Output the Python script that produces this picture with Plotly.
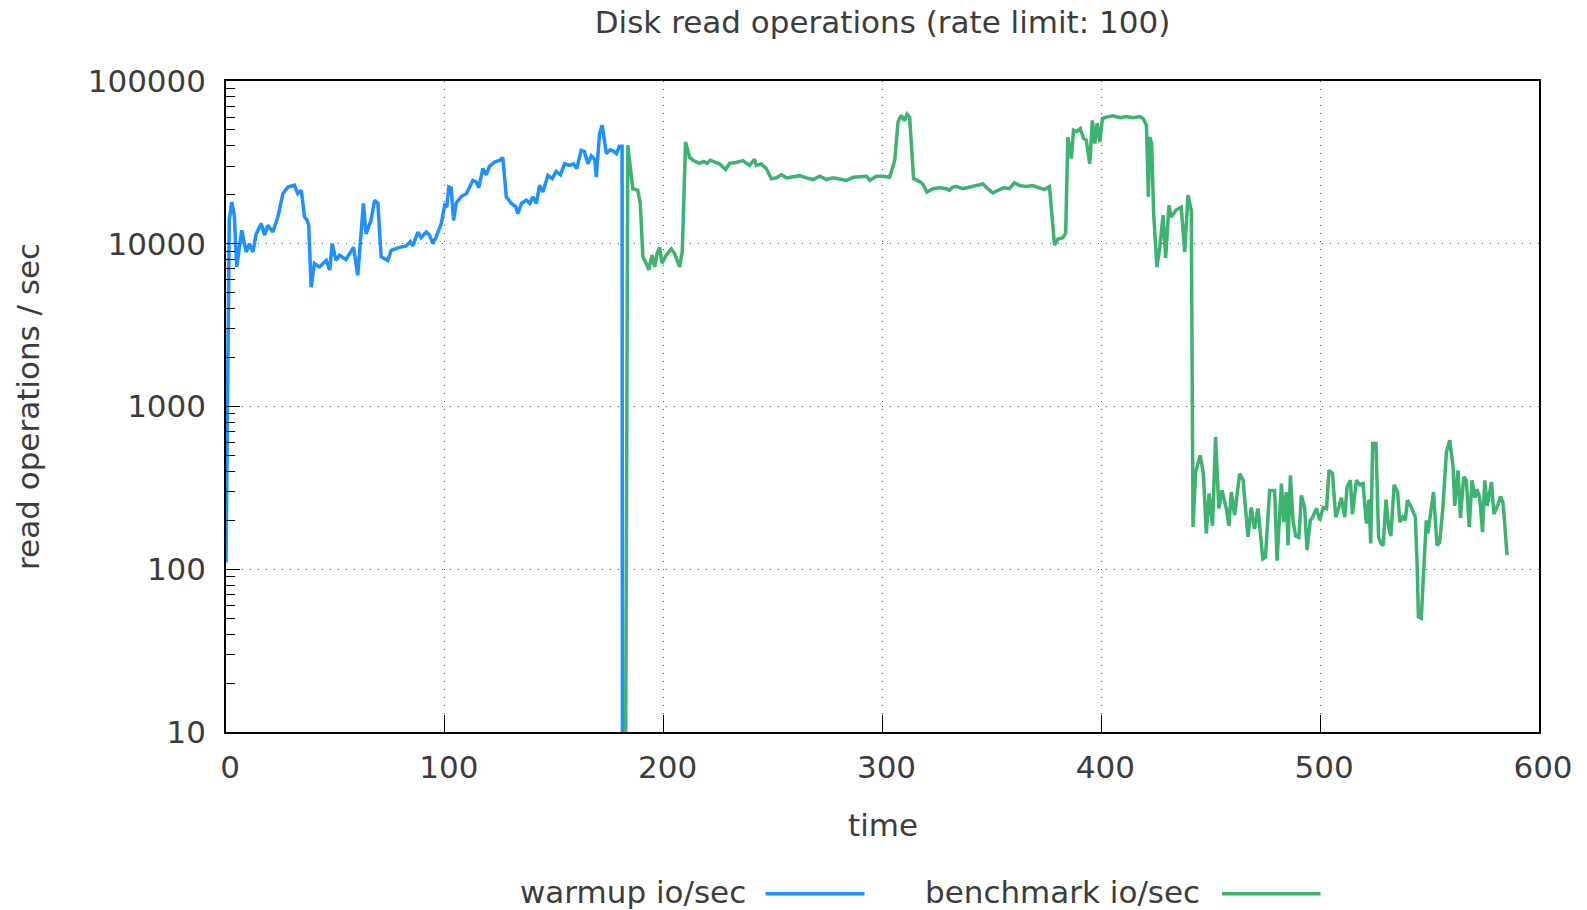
import plotly.graph_objects as go

# ---- data ----
warmup_time = [0, 1.5, 2.6, 3.8, 4.9, 7.2, 9.2, 10.7, 12.3, 13.8, 16.1, 17.6, 19.1, 21.4, 23.7, 26, 28.3, 31.3,
               32.8, 34.4, 35.9, 37, 37.8, 38.9, 40.4, 42.7, 45.8, 47.4, 48.5, 50.3, 51.8, 54.8, 58.3, 60.2,
               62.8, 64, 66.3, 67.9, 69.4, 70.9, 73.9, 75.5, 79.3, 82.4, 84.2, 85.4, 87.7, 89.2, 91.5, 93,
               94.5, 96, 98.4, 99.9, 100.9, 101.8, 102.9, 104, 105.2, 107.5, 109.8, 111, 112.8, 114.3, 115.5,
               117.4, 118.9, 120.4, 122.7, 125, 126.5, 128.1, 130.4, 132.4, 133.4, 135, 137.2, 138.8, 140.3,
               141.8, 143.3, 144.8, 147.1, 149.1, 150.9, 152.8, 154.7, 157, 158.8, 160.3, 162.3, 163.8, 165.4,
               166.9, 168.5, 169.2, 170.7, 171.9, 173.8, 175.6, 177.1, 178.4, 179.8, 181.0, 181.2]
warmup_ops = [110, 14000, 18000, 15000, 7200, 12100, 8900, 10000, 8900, 11500, 13300, 11300, 13000, 11800, 14600,
              20300, 22300, 22900, 20300, 21300, 14600, 14000, 13000, 5400, 7550, 7200, 7900, 6900, 10000, 7900,
              8500, 8000, 9500, 6400, 17700, 11500, 14000, 18500, 17700, 8300, 7900, 9100, 9500, 9700, 10300,
              9700, 11800, 10900, 11800, 11300, 10000, 11000, 13300, 17200, 16800, 22300, 22000, 13900, 17800,
              19500, 20300, 22100, 24500, 24000, 22100, 29000, 26500, 29900, 31800, 32500, 33800, 19400, 17700,
              16900, 15300, 17700, 18500, 17700, 19400, 17700, 22900, 20800, 26300, 25100, 27800, 26500, 31000,
              30300, 31000, 29000, 37500, 36800, 31000, 34700, 33000, 25700, 47500, 53500, 35800, 37800, 37000,
              35800, 39700, 39700, 1]

bench_time = [182.4, 183.6, 185.9, 188.2, 189.3, 190.5, 192, 193.2, 194.7, 195.9, 196.9, 198.1, 199.3, 201.2,
              203.5, 205, 207.3, 208.5, 210, 211.8, 213.6, 216.4, 218.3, 219.8, 221.3, 223.3, 225.6, 228.3,
              230.1, 233.2, 236.2, 239.2, 241.5, 242.3, 244.6, 246.9, 249.2, 251.5, 253.8, 256.1, 259.1, 262.2,
              265.2, 268.3, 271.3, 274.4, 277.4, 280.5, 283.5, 286.6, 289.6, 292.7, 294.2, 297.2, 300.3, 303.3,
              305.6, 307.1, 308.6, 310.1, 311.2, 312.4, 314.2, 317, 318.5, 320.3, 323, 326, 329.1, 330.6, 332.1,
              333.7, 336.7, 339.8, 342.8, 345.9, 348.1, 350.4, 353.4, 355.7, 358, 360.3, 362.6, 365.6, 368.6,
              371.7, 374, 376.3, 378.6, 380.2, 382.4, 383.7, 384.7, 386.3, 387.3, 388.6, 390.4, 391.9, 393.1,
              394.7, 395.9, 397, 398.1, 399.3, 400.5, 402.3, 405.3, 408.4, 411.4, 414.5, 417.5, 419.1, 420.6,
              421.5, 422.1, 423, 423.9, 425.4, 426.7, 428.2, 429.4, 430.9, 431.9, 434.2, 436.5, 438.1, 439.6,
              441.1, 441.9, 443.1, 445.2, 446.6, 448, 449.2, 450.8, 452.2, 453.7, 455.2, 457.1, 458.3, 459.4,
              460.9, 463.2, 464.8, 467, 468.5, 470, 471.6, 473.8, 475, 476.9, 479.2, 480.3, 482.3, 483.3, 484.5,
              485.3, 486.4, 487.6, 488.8, 490.3, 491.4, 492.9, 494, 495.5, 496.4, 498.3, 499.8, 501.4, 502.9,
              504, 505.6, 507.1, 508.6, 509.7, 511.2, 512.3, 513.8, 514.7, 516.6, 518.1, 519.6, 521.1, 522.3,
              523.1, 524, 525.5, 526.7, 527.8, 528.8, 530.1, 531.3, 532.3, 533.8, 535.4, 536.4, 537.7, 538.9,
              539.9, 541.9, 543.5, 544.3, 544.9, 546.2, 547.4, 548.5, 549.2, 550.3, 551.8, 553.4, 554.6, 556.1,
              557.7, 559.2, 560.7, 561.5, 563, 564.1, 565.6, 566.8, 568.1, 569.4, 570.7, 571.7, 572.9, 574.2,
              575.2, 576.3, 578.3, 579.4, 581.3, 582.4, 583.6, 585.4]
bench_ops = [1, 40300, 21800, 21300, 17700, 8300, 7600, 6900, 8500, 7200, 8600, 9500, 7600, 8500, 9300, 8700,
             7200, 9000, 42200, 34100, 32400, 31200, 32000, 31200, 32600, 31600, 30900, 28600, 31200, 31600,
             32400, 30300, 33000, 30300, 30900, 29000, 25100, 25400, 26500, 25400, 25800, 26200, 25400, 24800,
             26000, 24800, 25400, 25000, 24500, 25600, 25800, 26000, 24500, 26000, 26000, 25600, 32600, 56000,
             61500, 57000, 62500, 60000, 25100, 24100, 23200, 20800, 21800, 22100, 21800, 21300, 22300, 22500,
             21800, 22300, 22800, 23300, 21800, 20500, 21500, 22100, 21800, 23700, 22800, 22500, 22800, 22100,
             21500, 22500, 9800, 10700, 10900, 11600, 45300, 33400, 49800, 48800, 50900, 44300, 43400, 31000,
             57300, 41300, 55100, 42200, 58800, 60000, 61100, 59500, 60500, 59500, 60500, 58800, 53500, 19400,
             45300, 41300, 15300, 7200, 9500, 15000, 8200, 17200, 14600, 16100, 16800, 8900, 19900, 16100, 182,
             396, 501, 390, 166, 292, 185, 650, 236, 305, 236, 185, 298, 215, 387, 352, 158, 240, 177, 236, 116,
             119, 305, 305, 113, 336, 195, 298, 140, 378, 200, 160, 157, 284, 240, 131, 200, 207, 236, 200, 240,
             236, 405, 390, 209, 240, 275, 209, 320, 352, 218, 352, 330, 336, 191, 268, 144, 592, 592, 157, 144,
             140, 268, 182, 160, 330, 298, 195, 209, 200, 266, 236, 209, 108, 51, 50, 108, 200, 166, 209, 298,
             140, 146, 240, 525, 620, 430, 245, 405, 207, 370, 352, 182, 352, 275, 310, 275, 169, 352, 245, 343,
             218, 250, 280, 255, 122]

x_ticks = [0, 100, 200, 300, 400, 500, 600]
y_ticks = [10, 100, 1000, 10000, 100000]
y_ticklabels = ["10", "100", "1000", "10000", "100000"]

BLUE = "#1E90FF"
GREEN = "#3CB371"
FONT = "DejaVu Sans"
TXT = "#3c3c3c"
FS = 31

fig = go.Figure()
fig.add_trace(go.Scatter(x=warmup_time, y=warmup_ops, mode="lines", name="warmup io/sec",
                         line=dict(color=BLUE, width=3.5), showlegend=False))
fig.add_trace(go.Scatter(x=bench_time, y=bench_ops, mode="lines", name="benchmark io/sec",
                         line=dict(color=GREEN, width=3.5), showlegend=False))

axis_common = dict(showline=True, linecolor="black", linewidth=1.5, mirror=True,
                   ticks="inside", tickcolor="black", tickwidth=1.2,
                   showgrid=True, gridcolor="#555555", gridwidth=1.3, griddash="1px,7px",
                   zeroline=False, tickfont=dict(family=FONT, size=FS, color=TXT))

fig.update_xaxes(range=[0, 600], tickmode="array", tickvals=x_ticks, ticklen=17,
                 ticklabelstandoff=7, ticklabelshift=4, **axis_common)
fig.update_yaxes(type="log", range=[1, 5], tickmode="array", tickvals=y_ticks, ticktext=y_ticklabels,
                 ticklen=14, ticklabelstandoff=12,
                 minor=dict(ticks="inside", ticklen=9, tickcolor="black", tickwidth=1.2,
                            dtick="D1", showgrid=False),
                 **axis_common)

LEG_Y = -0.2455
annotations = [
    dict(text="read operations / sec", xref="paper", yref="paper", x=-0.1512, y=0.5,
         xanchor="center", yanchor="middle", textangle=-90, showarrow=False,
         font=dict(family=FONT, size=FS, color=TXT)),
    dict(text="time", xref="paper", yref="paper", x=0.5, y=-0.1433,
         xanchor="center", yanchor="middle", showarrow=False,
         font=dict(family=FONT, size=FS, color=TXT)),
    dict(text="warmup io/sec", xref="paper", yref="paper", x=0.3965, y=LEG_Y,
         xanchor="right", yanchor="middle", showarrow=False, borderpad=0,
         font=dict(family=FONT, size=FS, color=TXT)),
    dict(text="benchmark io/sec", xref="paper", yref="paper", x=0.7422, y=LEG_Y,
         xanchor="right", yanchor="middle", showarrow=False, borderpad=0,
         font=dict(family=FONT, size=FS, color=TXT)),
]
shapes = [
    dict(type="line", xref="paper", yref="paper", x0=0.4109, x1=0.4863, y0=-0.2485, y1=-0.2485,
         line=dict(color=BLUE, width=3.5)),
    dict(type="line", xref="paper", yref="paper", x0=0.7586, x1=0.8336, y0=-0.2485, y1=-0.2485,
         line=dict(color=GREEN, width=3.5)),
]

fig.update_layout(
    width=1587, height=910,
    margin=dict(l=226, r=48, t=81, b=178, autoexpand=False),
    paper_bgcolor="white", plot_bgcolor="white",
    title=dict(text="Disk read operations (rate limit: 100)", x=0.5, xref="paper",
               y=1 - 22 / 910, yref="container", xanchor="center", yanchor="middle",
               font=dict(family=FONT, size=FS, color=TXT)),
    annotations=annotations, shapes=shapes,
)

fig.write_html("out.html", config={"displayModeBar": False},
               post_script="document.body.style.margin='0';document.body.style.padding='0';"
                           "document.body.style.overflow='hidden';")
